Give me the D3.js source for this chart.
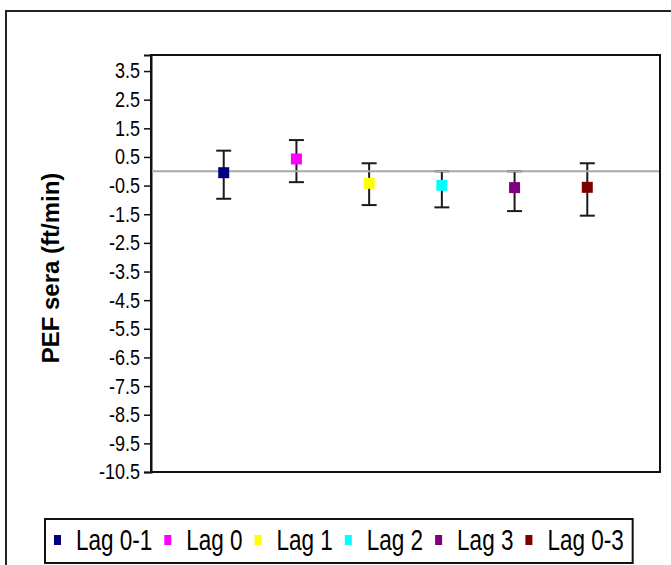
<!DOCTYPE html>
<html>
<head>
<meta charset="utf-8">
<script src="https://cdn.jsdelivr.net/npm/d3@7"></script>
<style>
  body { margin: 0; background: #fff; }
  svg text { font-family: "Liberation Sans", Arial, sans-serif; fill: #000; }
</style>
</head>
<body>
<div id="chart"></div>
<script>
// values
const categories = ["Lag 0-1", "Lag 0", "Lag 1", "Lag 2", "Lag 3", "Lag 0-3"]
const means = [-0.05, 0.43, -0.42, -0.49, -0.57, -0.56]
const upper = [0.72, 1.09, 0.28, 0.0, 0.0, 0.28]
const lower = [-0.96, -0.38, -1.18, -1.26, -1.39, -1.55]
const colors = ["#000080", "#ff00ff", "#ffff00", "#00ffff", "#800080", "#800000"]
const tickValues = [3.5, 2.5, 1.5, 0.5, -0.5, -1.5, -2.5, -3.5, -4.5, -5.5, -6.5, -7.5, -8.5, -9.5, -10.5]
const yTitle = "PEF sera (ft/min)"

const width = 671
const height = 565
const plot = {left: 151, top: 55, right: 660, bottom: 472}

const svg = d3.select("#chart")
	.append("svg")
		.attr("width", width)
		.attr("height", height)

// outer chart border (runs off the right/bottom edge)
svg.append("rect")
	.attr("x", 6).attr("y", 11)
	.attr("width", 700).attr("height", 600)
	.attr("fill", "none")
	.attr("stroke", "#222")
	.attr("stroke-width", 2)

const x = d3.scaleLinear()
	.domain([0, categories.length + 1])
	.range([plot.left, plot.right])

const y = d3.scaleLinear()
	.domain([-10.5, 4.06])
	.range([plot.bottom, plot.top])

// plot area frame
svg.append("rect")
	.attr("x", plot.left).attr("y", plot.top)
	.attr("width", plot.right - plot.left)
	.attr("height", plot.bottom - plot.top)
	.attr("fill", "none")
	.attr("stroke", "#111")
	.attr("stroke-width", 2)

const yAxis = g => g
	.attr("transform", `translate(${plot.left},0)`)
	.call(d3.axisLeft(y).tickValues(tickValues).tickSize(7).tickPadding(4)
		.tickFormat(d => d < 0 ? "-" + Math.abs(d).toFixed(1) : d.toFixed(1)))
	.call(g => g.select(".domain").attr("stroke", "#111").attr("stroke-width", 2))
	.call(g => g.selectAll(".tick line").attr("stroke", "#111").attr("stroke-width", 1.5))
	.call(g => g.selectAll(".tick text")
		.attr("font-family", "Liberation Sans, Arial, sans-serif")
		.attr("font-size", 18)
		.attr("fill", "#111")
		.attr("transform", "scale(1,1.2)"))

svg.append("g").call(yAxis)

// y title
svg.append("text")
	.attr("transform", `translate(59,268) rotate(-90)`)
	.attr("text-anchor", "middle")
	.attr("font-size", 24)
	.attr("font-weight", "bold")
	.text(yTitle)

// error bars
const cap = 7.5
const bars = svg.append("g")
	.attr("stroke", "#1a1a1a")
	.attr("stroke-width", 2)
	.selectAll("g")
	.data(categories)
	.join("g")

bars.append("line")
	.attr("x1", (d, i) => x(i + 1)).attr("x2", (d, i) => x(i + 1))
	.attr("y1", (d, i) => y(upper[i])).attr("y2", (d, i) => y(lower[i]))
bars.append("line")
	.attr("x1", (d, i) => x(i + 1) - cap).attr("x2", (d, i) => x(i + 1) + cap)
	.attr("y1", (d, i) => y(upper[i])).attr("y2", (d, i) => y(upper[i]))
bars.append("line")
	.attr("x1", (d, i) => x(i + 1) - cap).attr("x2", (d, i) => x(i + 1) + cap)
	.attr("y1", (d, i) => y(lower[i])).attr("y2", (d, i) => y(lower[i]))

// zero line
svg.append("line")
	.attr("x1", plot.left + 1).attr("x2", plot.right - 1)
	.attr("y1", y(0)).attr("y2", y(0))
	.attr("stroke", "#a8a8a8")
	.attr("stroke-width", 2)

// markers
const m = 11
svg.append("g")
	.selectAll("rect")
	.data(categories)
	.join("rect")
		.attr("x", (d, i) => x(i + 1) - m / 2)
		.attr("y", (d, i) => y(means[i]) - m / 2)
		.attr("width", m)
		.attr("height", m)
		.attr("fill", (d, i) => colors[i])

// legend
const legend = svg.append("g")
let cx = 54
categories.forEach(function (c, i) {
	legend.append("rect")
		.attr("x", cx).attr("y", 535)
		.attr("width", 7).attr("height", 10)
		.attr("fill", colors[i])
	const t = legend.append("text")
		.attr("transform", `translate(${cx + 22},550) scale(1,1.28)`)
		.attr("font-size", 22.5)
		.text(c)
	cx += 22 + t.node().getComputedTextLength() + 12
})

legend.insert("rect", ":first-child")
	.attr("x", 45).attr("y", 519)
	.attr("width", cx - 45 - 3).attr("height", 44)
	.attr("fill", "#fff")
	.attr("stroke", "#111")
	.attr("stroke-width", 2)
</script>
</body>
</html>
